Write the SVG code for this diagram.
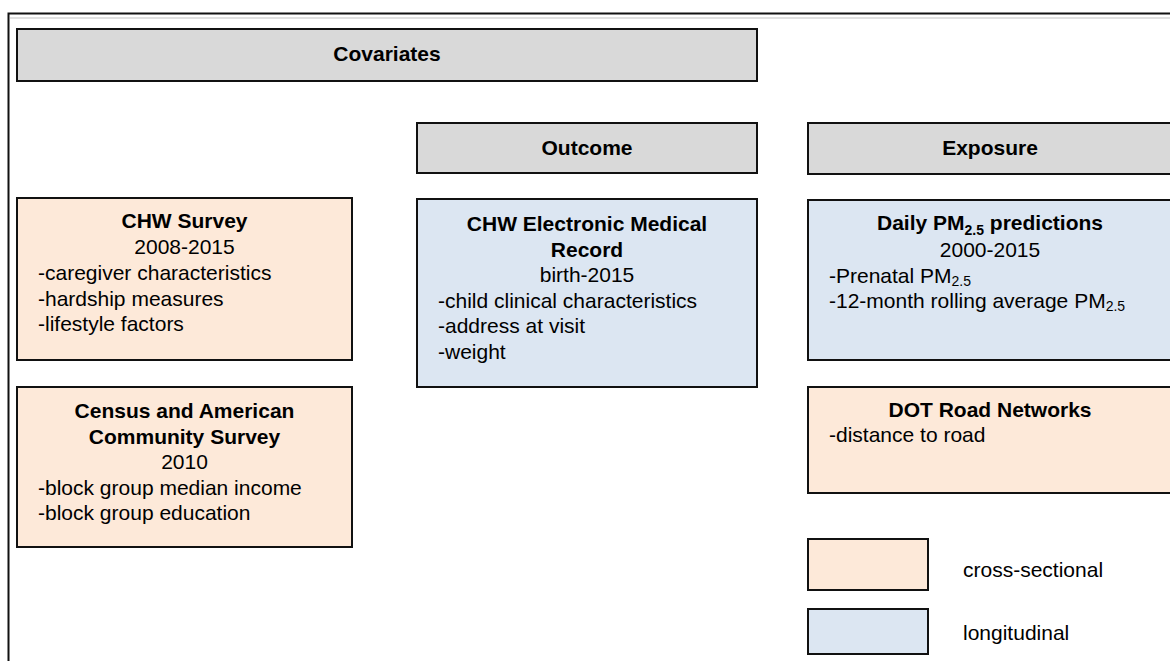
<svg xmlns="http://www.w3.org/2000/svg" width="1170" height="661" viewBox="0 0 1170 661">
<style>
text{font-family:"Liberation Sans",Arial,sans-serif;font-size:21px;fill:#000}
.b{font-weight:bold}
.m{text-anchor:middle}
.sub{font-size:14px}
.box{stroke:#111;stroke-width:2}
.hdr{fill:#D9D9D9}
.cs{fill:#FDE9D9}
.lg{fill:#DCE6F2}
</style>
<rect x="0" y="0" width="1170" height="661" fill="#fff"/>
<g id="frame">
<rect x="8.5" y="13.5" width="1200" height="700" fill="none" stroke="#111" stroke-width="2"/>
<line x1="10" y1="18" x2="1170" y2="18" stroke="#d6d6d6" stroke-width="1.5"/>
</g>
<g id="covariates">
<rect class="box hdr" x="17" y="29" width="740" height="52"/>
<text class="b m" x="387" y="61">Covariates</text>
</g>
<g id="outcome">
<rect class="box hdr" x="417" y="123" width="340" height="50"/>
<text class="b m" x="587" y="155">Outcome</text>
</g>
<g id="exposure">
<rect class="box hdr" x="808" y="123" width="364" height="51"/>
<text class="b m" x="990" y="155">Exposure</text>
</g>
<g id="chw-survey">
<rect class="box cs" x="17" y="198" width="335" height="162"/>
<text class="b m" x="184.5" y="228">CHW Survey</text>
<text class="m" x="184.5" y="254">2008-2015</text>
<text x="38" y="280">-caregiver characteristics</text>
<text x="38" y="305.5">-hardship measures</text>
<text x="38" y="331">-lifestyle factors</text>
</g>
<g id="census">
<rect class="box cs" x="17" y="387" width="335" height="160"/>
<text class="b m" x="184.5" y="418">Census and American</text>
<text class="b m" x="184.5" y="443.5">Community Survey</text>
<text class="m" x="184.5" y="469">2010</text>
<text x="38" y="494.5">-block group median income</text>
<text x="38" y="520">-block group education</text>
</g>
<g id="emr">
<rect class="box lg" x="417" y="199" width="340" height="188"/>
<text class="b m" x="587" y="231">CHW Electronic Medical</text>
<text class="b m" x="587" y="256.5">Record</text>
<text class="m" x="587" y="282">birth-2015</text>
<text x="438" y="307.5">-child clinical characteristics</text>
<text x="438" y="333">-address at visit</text>
<text x="438" y="358.5">-weight</text>
</g>
<g id="pm25">
<rect class="box lg" x="808" y="200" width="364" height="160"/>
<text class="b m" x="990" y="230">Daily PM<tspan class="sub" dy="5">2.5</tspan><tspan dy="-5"> predictions</tspan></text>
<text class="m" x="990" y="257">2000-2015</text>
<text x="829" y="283">-Prenatal PM<tspan class="sub" dy="3">2.5</tspan></text>
<text x="829" y="308">-12-month rolling average PM<tspan class="sub" dy="3">2.5</tspan></text>
</g>
<g id="dot">
<rect class="box cs" x="808" y="387" width="364" height="106"/>
<text class="b m" x="990" y="417">DOT Road Networks</text>
<text x="829" y="442">-distance to road</text>
</g>
<g id="legend-cross">
<rect class="box cs" x="808" y="539" width="120" height="51"/>
<text x="963" y="577">cross-sectional</text>
</g>
<g id="legend-long">
<rect class="box lg" x="808" y="609" width="120" height="45"/>
<text x="963" y="640">longitudinal</text>
</g>
<g id="connectors"></g>
</svg>
